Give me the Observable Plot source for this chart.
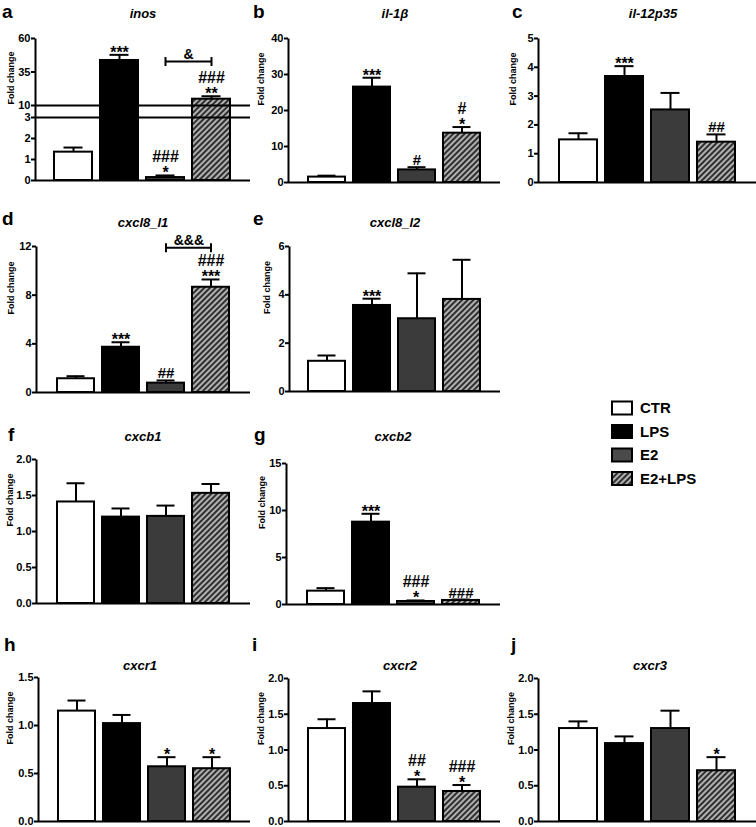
<!DOCTYPE html>
<html>
<head>
<meta charset="utf-8">
<script src="https://cdn.jsdelivr.net/npm/d3@7"></script>
<script src="https://cdn.jsdelivr.net/npm/@observablehq/plot@0.6"></script>
<style>
  body { margin: 0; background: #fff; }
  #fig { position: relative; width: 756px; height: 827px; overflow: hidden; background: #fff;
         font-family: "Liberation Sans", Arial, sans-serif; }
  .panel { position: absolute; }
</style>
</head>
<body>
<svg width="0" height="0" style="position:absolute">
  <defs>
    <pattern id="hatch" patternUnits="userSpaceOnUse" width="4" height="4" patternTransform="rotate(45)">
      <rect width="4" height="4" fill="#2f2f2f"></rect>
      <line x1="1" y1="0" x2="1" y2="4" stroke="#dcdcdc" stroke-width="1.5"></line>
    </pattern>
  </defs>
</svg>
<div id="fig"></div>
<script>
// ---------------- DATA ----------------
const groups = ["CTR", "LPS", "E2", "E2+LPS"];
const groupFills = ["#ffffff", "#000000", "#3b3b3b", "url(#hatch)"];
const panelLetters = ["a", "b", "c", "d", "e", "f", "g", "h", "i", "j"];
const genes = ["inos", "il-1β", "il-12p35", "cxcl8_l1", "cxcl8_l2", "cxcb1", "cxcb2", "cxcr1", "cxcr2", "cxcr3"];

// mean fold change, top of the error bar, significance marks (order: CTR, LPS, E2, E2+LPS)
const inosMean = [1.35, 43.6, 0.14, 14.7];
const inosUpper = [1.57, 47.8, 0.24, 16.9];
const inosSig = ["", "***", "###\n*", "###\n**"];

const il1bMean = [1.5, 26.5, 3.5, 13.7];
const il1bUpper = [1.9, 29.1, 4.25, 15.4];
const il1bSig = ["", "***", "#", "#\n*"];

const il12Mean = [1.48, 3.68, 2.52, 1.40];
const il12Upper = [1.71, 4.04, 3.11, 1.67];
const il12Sig = ["", "***", "", "##"];

const cxcl8l1Mean = [1.13, 3.72, 0.77, 8.65];
const cxcl8l1Upper = [1.34, 4.13, 0.99, 9.29];
const cxcl8l1Sig = ["", "***", "##", "###\n***"];

const cxcl8l2Mean = [1.25, 3.56, 3.01, 3.81];
const cxcl8l2Upper = [1.49, 3.84, 4.89, 5.45];
const cxcl8l2Sig = ["", "***", "", ""];

const cxcb1Mean = [1.41, 1.20, 1.21, 1.53];
const cxcb1Upper = [1.67, 1.32, 1.36, 1.66];
const cxcb1Sig = ["", "", "", ""];

const cxcb2Mean = [1.42, 8.76, 0.32, 0.43];
const cxcb2Upper = [1.74, 9.65, 0.43, 0.53];
const cxcb2Sig = ["", "***", "###\n*", "###"];

const cxcr1Mean = [1.15, 1.02, 0.57, 0.55];
const cxcr1Upper = [1.26, 1.11, 0.67, 0.67];
const cxcr1Sig = ["", "", "*", "*"];

const cxcr2Mean = [1.30, 1.65, 0.48, 0.42];
const cxcr2Upper = [1.43, 1.82, 0.59, 0.51];
const cxcr2Sig = ["", "", "##\n*", "###\n*"];

const cxcr3Mean = [1.30, 1.09, 1.30, 0.71];
const cxcr3Upper = [1.40, 1.19, 1.55, 0.90];
const cxcr3Sig = ["", "", "", "*"];

// y tick labels
const inosTicks = [0, 1, 2, 3, 10, 35, 60];
const inosBreak = [0, 3, 10, 60];          // broken axis: 0–3 and 10–60
const il1bTicks = [0, 10, 20, 30, 40];
const il12Ticks = [0, 1, 2, 3, 4, 5];
const cxcl8l1Ticks = [0, 4, 8, 12];
const cxcl8l2Ticks = [0, 2, 4, 6];
const cxcb1Ticks = [0, 0.5, 1, 1.5, 2];
const cxcb2Ticks = [0, 5, 10, 15];
const cxcr1Ticks = [0, 0.5, 1, 1.5];
const cxcr2Ticks = [0, 0.5, 1, 1.5, 2];
const cxcr3Ticks = [0, 0.5, 1, 1.5, 2];

// E2 vs E2+LPS comparisons
const compare = [
  {gene: "inos", from: "E2", to: "E2+LPS", level: 42.8, label: "&"},
  {gene: "cxcl8_l1", from: "E2", to: "E2+LPS", level: 11.9, label: "&&&"}
];

// ---------------- LAYOUT ----------------
const layout = {
  a: {x0: 35, x1: 250, yTop: 38, y0: 180, lab: 24, yBreak: [180, 117, 105, 38], title: [143, 18], letter: [2, 18]},
  b: {x0: 288, x1: 500, yTop: 38, y0: 182, lab: 27, title: [395, 18], letter: [253, 18]},
  c: {x0: 538, x1: 756, yTop: 38, y0: 182, lab: 25, title: [653, 18], letter: [512, 18]},
  d: {x0: 36, x1: 250, yTop: 246, y0: 392, lab: 25, title: [143, 227], letter: [2, 225]},
  e: {x0: 289, x1: 500, yTop: 246, y0: 391, lab: 22, title: [395, 227], letter: [253, 225]},
  f: {x0: 36, x1: 250, yTop: 459, y0: 603, lab: 26, title: [143, 441], letter: [8, 441]},
  g: {x0: 286, x1: 500, yTop: 463, y0: 604, lab: 24, title: [393, 441], letter: [254, 441]},
  h: {x0: 38, x1: 250, yTop: 677, y0: 821, lab: 28, title: [140, 670], letter: [4, 651]},
  i: {x0: 288, x1: 500, yTop: 678, y0: 821, lab: 27, title: [400, 670], letter: [252, 651]},
  j: {x0: 538, x1: 756, yTop: 678, y0: 821, lab: 27, title: [650, 670], letter: [511, 651]}
};

const panelsData = [
  [inosMean, inosUpper, inosSig, inosTicks, null, inosBreak],
  [il1bMean, il1bUpper, il1bSig, il1bTicks, null, null],
  [il12Mean, il12Upper, il12Sig, il12Ticks, null, null],
  [cxcl8l1Mean, cxcl8l1Upper, cxcl8l1Sig, cxcl8l1Ticks, null, null],
  [cxcl8l2Mean, cxcl8l2Upper, cxcl8l2Sig, cxcl8l2Ticks, null, null],
  [cxcb1Mean, cxcb1Upper, cxcb1Sig, cxcb1Ticks, d => d.toFixed(1), null],
  [cxcb2Mean, cxcb2Upper, cxcb2Sig, cxcb2Ticks, null, null],
  [cxcr1Mean, cxcr1Upper, cxcr1Sig, cxcr1Ticks, d => d.toFixed(1), null],
  [cxcr2Mean, cxcr2Upper, cxcr2Sig, cxcr2Ticks, d => d.toFixed(1), null],
  [cxcr3Mean, cxcr3Upper, cxcr3Sig, cxcr3Ticks, d => d.toFixed(1), null]
];

const FONT = '"Liberation Sans", Arial, sans-serif';
const fig = document.getElementById("fig");
const vbar = {draw(ctx, size) { const r = Math.sqrt(size / Math.PI); ctx.moveTo(0, -r); ctx.lineTo(0, r); }};
const PI_ = 0.17, PO_ = 0.42;

panelLetters.forEach((key, idx) => {
  const [mean, upper, sig, ticks, fmt, brk] = panelsData[idx];
  const gene = genes[idx];
  const L = layout[key];
  const mL = 44, mR = 2, mT = 16, mB = 8;
  const W = L.x1 - L.x0, H = L.y0 - L.yTop;
  const width = W + mL + mR, height = H + mT + mB;
  const left = L.x0 - mL, top = L.yTop - mT;
  const rows = groups.map((g, i) => ({group: g, mean: mean[i], upper: upper[i], sig: sig[i]}));
  const step = W / (groups.length - PI_ + 2 * PO_);
  const yScale = brk
    ? {type: "linear", domain: brk, range: L.yBreak.map(v => v - top)}
    : {type: "linear", domain: [0, ticks[ticks.length - 1]]};
  const br = compare.filter(c => c.gene === gene);
  const sigTxt = {fontSize: 16, fontWeight: "bold", fill: "#000", lineAnchor: "bottom", lineHeight: 1};
  const marks = [
    Plot.barY(rows, {x: "group", y: "mean", fill: "group", stroke: "#000", strokeWidth: 2}),
    Plot.ruleX(rows, {x: "group", y1: "mean", y2: "upper", stroke: "#000", strokeWidth: 2}),
    Plot.tickY(rows, {x: "group", y: "upper", stroke: "#000", strokeWidth: 2, insetLeft: 9.5, insetRight: 9.5}),
    Plot.ruleY(brk ? [0, brk[1], brk[2]] : [0], {stroke: "#000", strokeWidth: 2}),
    // y axis line: only the left edge of the frame is stroked
    Plot.frame({stroke: "#000", strokeWidth: 2, fill: "none", strokeDasharray: `0 ${2 * W + H} ${H} 0`}),
    Plot.axisY(ticks, {tickFormat: fmt || undefined, tickSize: 4, tickPadding: 1, stroke: "#000", strokeWidth: 2,
      fontSize: 11, fontWeight: "bold", fill: "#000", label: null}),
    Plot.text(["Fold change"], {frameAnchor: "left", rotate: -90, dx: -L.lab, dy: -5, fontSize: 9, fontWeight: "bold", fill: "#000"}),
    // significance: lines ending with "*" sit just above the cap, "#" alone slightly higher
    Plot.text(rows.filter(r => r.sig && r.sig.endsWith("*")), {x: "group", y: "upper", text: "sig", dy: 3, ...sigTxt}),
    Plot.text(rows.filter(r => r.sig && r.sig.endsWith("#")), {x: "group", y: "upper", text: "sig", dy: -2, ...sigTxt, fontSize: 15})
  ];
  if (br.length) {
    marks.push(
      Plot.link(br, {x1: "from", x2: "to", y1: "level", y2: "level", stroke: "#000", strokeWidth: 2}),
      Plot.dot(br.flatMap(b => [{g: b.from, v: b.level}, {g: b.to, v: b.level}]),
        {x: "g", y: "v", r: 4.5, symbol: vbar, stroke: "#000", strokeWidth: 2, fill: "none"}),
      Plot.text(br, {x: "from", y: "level", text: "label", dx: step / 2, dy: -3, ...sigTxt, fontSize: 14})
    );
  }
  const chart = Plot.plot({
    width, height, marginLeft: mL, marginRight: mR, marginTop: mT, marginBottom: mB,
    x: {type: "band", domain: groups, paddingInner: PI_, paddingOuter: PO_, axis: null},
    y: yScale,
    color: {domain: groups, range: groupFills},
    style: {background: "transparent", overflow: "visible", fontFamily: FONT, maxWidth: "none", color: "#000"},
    marks
  });
  const div = document.createElement("div");
  div.className = "panel";
  div.style.left = left + "px";
  div.style.top = top + "px";
  div.style.width = width + "px";
  div.style.height = height + "px";
  div.appendChild(chart);
  fig.appendChild(div);
});

// overlay: panel letters, gene titles, legend
const over = d3.select(fig).append("svg")
  .attr("width", 756).attr("height", 827)
  .style("position", "absolute").style("left", "0px").style("top", "0px")
  .style("font-family", FONT);

panelLetters.forEach((key, idx) => {
  const L = layout[key];
  over.append("text").attr("x", L.letter[0]).attr("y", L.letter[1])
    .attr("font-size", 19).attr("font-weight", "bold").text(key);
  over.append("text").attr("x", L.title[0]).attr("y", L.title[1])
    .attr("text-anchor", "middle").attr("font-size", 13).attr("font-weight", "bold")
    .attr("font-style", "italic").text(genes[idx]);
});

const legendY = [408, 431.5, 455, 478.5];
groups.forEach((g, i) => {
  over.append("rect").attr("x", 612).attr("y", legendY[i] - 6.5).attr("width", 20).attr("height", 13)
    .attr("fill", i === 2 ? "#4a4a4a" : groupFills[i]).attr("stroke", "#000").attr("stroke-width", 2);
  over.append("text").attr("x", 640).attr("y", legendY[i]).attr("dy", "0.36em")
    .attr("font-size", 15).attr("font-weight", "bold").text(g);
});
</script>
</body>
</html>
